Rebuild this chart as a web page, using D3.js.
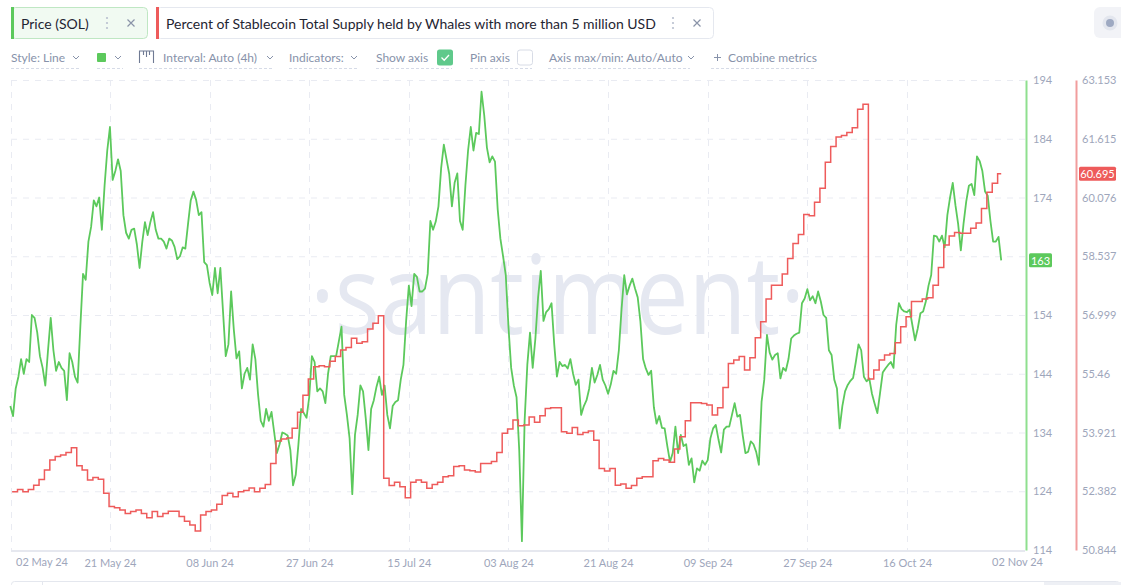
<!DOCTYPE html>
<html>
<head>
<meta charset="utf-8">
<title>SOL price vs stablecoin whale supply</title>
<script src="https://cdn.jsdelivr.net/npm/d3@7"></script>
<style>
  body { margin: 0; background: #fff; }
  svg { display: block; font-family: Lato, "Noto Sans", sans-serif; }
</style>
</head>
<body>
<svg id="chart" width="1121" height="585"></svg>
<script>
// Price (SOL), one reading every 12h
const priceStart = '2024-05-02T12:00';
const priceStepHours = 12;
const priceValues = [
  138.5, 136.8, 141.5, 143.5, 146.5, 144, 146.5, 146, 154, 153.5,
  151, 147, 145, 142, 148, 153.5, 148, 144.5, 146, 145,
  144.5, 139.5, 147.5, 146, 143.5, 142.5, 152, 161, 160, 166.5,
  169, 173.5, 172.5, 174, 168.5, 176, 182, 186, 177, 178.5,
  180.5, 178.5, 171, 168, 167, 168.5, 168.7, 166, 162, 166.4,
  169.8, 167.6, 169.8, 171.5, 168.5, 167, 167, 166.5, 165.3, 167,
  166.7, 165.6, 163.5, 164, 165.5, 165.3, 169.5, 173.5, 175, 173.6,
  171, 171.5, 163, 162.5, 159.5, 157.4, 162, 157.7, 162, 154.5,
  147, 149, 158, 151.5, 146.6, 147.8, 141.5, 144, 145, 143,
  149, 146.5, 140.5, 136, 135, 138, 136, 137.5, 134, 130.5,
  132, 134, 133.8, 133.5, 131, 125, 126.8, 132, 138, 137.3,
  136.5, 140, 147, 146, 141, 141.5, 141, 139, 144, 147,
  147, 147, 149.5, 152, 140.4, 137, 133, 123.5, 133.6, 137,
  142, 141, 136.4, 131, 138, 139.5, 141.8, 143.5, 140.4, 142,
  137, 134.7, 138.5, 139.2, 139.5, 143, 145.5, 153, 159, 155.5,
  161, 160.5, 158, 158, 158.5, 161, 170, 168.5, 169.9, 172.5,
  179, 183, 180.5, 178, 172.5, 176.5, 178.1, 170, 168.5, 176,
  182, 186, 182, 185, 184.8, 192, 188, 182.5, 180, 181,
  180.1, 172, 167, 164, 160.8, 152, 145, 142, 140, 131,
  115.5, 136, 145.5, 151, 145, 150, 157, 161.5, 153, 154.5,
  155, 156, 149, 143.5, 146, 145.3, 145.5, 144.9, 146.5, 144,
  142.1, 143, 137, 138.5, 139.5, 141.5, 145, 142.5, 143.8, 145.5,
  143, 142, 140.6, 142.2, 144.5, 144, 148, 155, 160.8, 157.5,
  159, 160.2, 158.5, 157, 152.9, 146.5, 144.9, 143.8, 144.5, 138.3,
  135.5, 136.8, 134.8, 134.7, 131.7, 129, 130.5, 135, 130.5, 133.6,
  131.7, 132, 128.5, 129.6, 125.5, 127.9, 127.5, 129.2, 128.5, 129.3,
  133, 134.7, 135.3, 132.8, 130.6, 134.5, 135, 135, 137, 139,
  136.7, 137, 133.5, 130.5, 130.7, 132.5, 132, 130.7, 128.5, 139.2,
  143, 150.6, 147.6, 146.4, 147.2, 147.5, 143.2, 145, 144.5, 146.5,
  150, 150.5, 150.8, 151, 156, 156.8, 158.4, 156.5, 157.2, 156,
  158, 156.3, 154, 153.5, 148, 147.2, 143, 141.5, 134.7, 138.5,
  141, 142.1, 142.8, 143.3, 146, 149, 148, 143.5, 142.7, 143.2,
  140.6, 138.9, 137.3, 140.7, 144.2, 144.9, 145.5, 146, 145, 152.3,
  156, 155, 154.6, 154.5, 154.9, 152.3, 149.7, 151.7, 154.3, 154.6,
  156.3, 159, 160.8, 167.5, 167.4, 166.5, 167.5, 165.5, 171, 174,
  176.5, 172.7, 169.5, 165, 169.5, 173.3, 176, 176.3, 174.4, 181,
  180.2, 178.5, 175, 174.3, 170, 166.5, 166.5, 167.3, 163.3
];

// Percent of stablecoin total supply held by whales (> 5M USD), daily
const whaleStart = '2024-05-02T20:00';
const whaleStepHours = 24;
const whaleValues = [
  52.37, 52.43, 52.37, 52.43, 52.54, 52.69, 52.94, 53.2, 53.29, 53.33,
  53.4, 53.52, 53.05, 52.94, 52.68, 52.74, 52.7, 52.33, 51.98, 51.95,
  51.89, 51.8, 51.85, 51.89, 51.8, 51.69, 51.85, 51.72, 51.8, 51.86,
  51.86, 51.72, 51.6, 51.5, 51.34, 51.76, 51.85, 51.89, 52.04, 52.27,
  52.33, 52.24, 52.37, 52.4, 52.47, 52.37, 52.46, 52.56, 53.11, 53.7,
  53.75, 53.78, 54.03, 54.45, 54.9, 55.32, 55.64, 55.67, 55.64, 55.79,
  55.91, 56.08, 56.15, 56.39, 56.26, 56.3, 56.63, 56.78, 56.98, 52.72,
  52.53, 52.62, 52.5, 52.21, 52.62, 52.68, 52.62, 52.46, 52.56, 52.62,
  52.76, 52.79, 53.03, 53.05, 52.94, 52.92, 52.89, 53.11, 53.11, 53.16,
  53.4, 53.9, 54.01, 54.25, 54.1, 54.12, 54.33, 54.19, 54.36, 54.55,
  54.57, 54.57, 53.94, 53.9, 54.05, 53.87, 53.92, 53.96, 53.72, 52.98,
  52.91, 52.98, 52.54, 52.57, 52.46, 52.53, 52.72, 52.76, 52.76, 53.18,
  53.24, 53.2, 53.14, 53.49, 53.81, 54.23, 54.7, 54.7, 54.68, 54.64,
  54.38, 54.57, 55.1, 55.73, 55.82, 55.91, 55.56, 55.88, 56.4, 56.82,
  57.42, 57.78, 57.78, 58.07, 58.48, 58.87, 59.11, 59.63, 59.6, 59.95,
  60.32, 61.0, 61.41, 61.66, 61.7, 61.78, 61.9, 62.39, 62.52, 55.32,
  55.56, 55.82, 55.95, 55.99, 56.27, 56.69, 56.95, 57.35, 57.35, 57.42,
  57.45, 57.78, 58.24, 58.83, 59.07, 59.16, 59.14, 59.14, 59.27, 59.41,
  59.79, 60.21, 60.45, 60.695
];

const priceTicks = [194, 184, 174, 164, 154, 144, 134, 124, 114];
const whaleTicks = [63.153, 61.615, 60.076, 58.537, 56.999, 55.46, 53.921, 52.382, 50.844];
const dateTicks = ['2024-05-21T00:00', '2024-06-08T12:00', '2024-06-27T00:00', '2024-07-15T12:00',
  '2024-08-03T00:00', '2024-08-21T12:00', '2024-09-09T00:00', '2024-09-27T12:00', '2024-10-16T00:00'];
const rangeLabels = ['02 May 24', '02 Nov 24'];
const viewRange = ['2024-05-02T15:00', '2024-11-06T22:00'];

const priceTitle = 'Price (SOL)';
const whaleTitle = 'Percent of Stablecoin Total Supply held by Whales with more than 5 million USD';

// colours
const GREEN = '#5cc95c';
const RED = '#ee5b5b';
const GRID = '#e9ebf2';
const MUTED = '#9ea6bb';
const TOOL = '#8792aa';

const svg = d3.select('#chart');
const plot = { left: 11, right: 1025, top: 80, bottom: 550 };

const parse = d3.utcParse('%Y-%m-%dT%H:%M');
const toSeries = (start, hours, values) =>
  values.map((v, i) => ({ date: new Date(parse(start).getTime() + i * hours * 36e5), value: v }));

const price = toSeries(priceStart, priceStepHours, priceValues);
const whales = toSeries(whaleStart, whaleStepHours, whaleValues);
// hold the last daily value until the last price reading
whales.push({ date: price[price.length - 1].date, value: whaleValues[whaleValues.length - 1] });

const x = d3.scaleUtc().domain(viewRange.map(parse)).range([plot.left, plot.right]);
const yPrice = d3.scaleLinear().domain([114, 194]).range([plot.bottom, plot.top]);
const yWhale = d3.scaleLinear().domain([50.844, 63.153]).range([plot.bottom, plot.top]);

// ---------- header pills ----------
const pillY = 7.5, pillH = 31, pillMid = pillY + pillH / 2;
function pill(x0, w, color, bg, border, label) {
  const g = svg.append('g');
  g.append('rect').attr('x', x0 + 0.5).attr('y', pillY).attr('width', w).attr('height', pillH)
    .attr('rx', 4).attr('fill', bg).attr('stroke', border);
  g.append('rect').attr('x', x0).attr('y', pillY - 0.5).attr('width', 3).attr('height', pillH + 1).attr('fill', color);
  g.append('text').attr('x', x0 + 10).attr('y', pillMid).attr('dominant-baseline', 'central')
    .attr('font-size', 14).attr('fill', '#1f2532').text(label);
  // kebab + close
  const kx = x0 + w - 40;
  [-5, 0, 5].forEach(dy => g.append('circle').attr('cx', kx).attr('cy', pillMid + dy).attr('r', 1.1).attr('fill', '#b9c0cf'));
  const cx = x0 + w - 16;
  g.append('path').attr('d', `M${cx - 3.5},${pillMid - 3.5}L${cx + 3.5},${pillMid + 3.5}M${cx + 3.5},${pillMid - 3.5}L${cx - 3.5},${pillMid + 3.5}`)
    .attr('stroke', '#8a93a8').attr('stroke-width', 1.2);
}
pill(11, 136, GREEN, '#f1faf2', '#bfe7c3', priceTitle);
pill(156, 557, RED, '#ffffff', '#e5e8ef', whaleTitle);

svg.append('rect').attr('x', 1094).attr('y', 7).attr('width', 40).attr('height', 31).attr('rx', 6).attr('fill', '#f2f3f7');
svg.append('circle').attr('cx', 1110).attr('cy', 23).attr('r', 7.5).attr('fill', '#e3e6ee');
svg.append('circle').attr('cx', 1110).attr('cy', 23).attr('r', 4).attr('fill', '#9ea9c2');

// ---------- toolbar ----------
const tb = svg.append('g').attr('font-size', 12).attr('fill', TOOL);
const toolY = 57.5;
[[11, 'Style: Line'], [163, 'Interval: Auto (4h)'], [289, 'Indicators:'], [376, 'Show axis'],
 [470, 'Pin axis'], [549, 'Axis max/min: Auto/Auto'], [728, 'Combine metrics']]
  .forEach(([tx, t]) => tb.append('text').attr('x', tx).attr('y', toolY).attr('dominant-baseline', 'central').text(t));

[76, 118, 270, 354, 691].forEach(cx =>
  tb.append('path').attr('d', `M${cx - 3},${toolY - 1.5}L${cx},${toolY + 1.5}L${cx + 3},${toolY - 1.5}`)
    .attr('fill', 'none').attr('stroke', TOOL).attr('stroke-width', 1));

[[11, 81], [97, 123], [139, 273], [289, 358], [376, 452], [470, 532], [548, 690], [711, 816]]
  .forEach(([a, b]) => tb.append('line').attr('x1', a).attr('x2', b).attr('y1', 68.5).attr('y2', 68.5)
    .attr('stroke', '#d6dbe7').attr('stroke-dasharray', '3,2'));

tb.append('rect').attr('x', 97).attr('y', toolY - 4.5).attr('width', 9).attr('height', 9).attr('rx', 1).attr('fill', GREEN);
// ruler icon
tb.append('path').attr('d', `M139.5,${toolY + 5.5}V${toolY - 6.5}H153.5V${toolY + 5.5}M143.5,${toolY - 6.5}v4M146.5,${toolY - 6.5}v6M149.5,${toolY - 6.5}v4`)
  .attr('fill', 'none').attr('stroke', '#6f7a93').attr('stroke-width', 1.1);
// checkboxes
tb.append('rect').attr('x', 437).attr('y', toolY - 8).attr('width', 16).attr('height', 16).attr('rx', 2.5).attr('fill', '#5fc98b');
tb.append('path').attr('d', `M441.5,${toolY}L444.2,${toolY + 2.7}L449,${toolY - 2.5}`)
  .attr('fill', 'none').attr('stroke', '#fff').attr('stroke-width', 1.3);
tb.append('rect').attr('x', 517.5).attr('y', toolY - 7.5).attr('width', 15).attr('height', 15).attr('rx', 2.5)
  .attr('fill', '#fff').attr('stroke', '#d8dce6');
tb.append('path').attr('d', `M714,${toolY}h7M717.5,${toolY - 3.5}v7`).attr('stroke', TOOL).attr('stroke-width', 1);

// ---------- grid ----------
const grid = svg.append('g').attr('stroke', GRID).attr('stroke-dasharray', '6,6');
grid.selectAll('.hg').data(priceTicks.filter(t => t !== 114)).join('line')
  .attr('x1', plot.left).attr('x2', plot.right)
  .attr('y1', d => yPrice(d) + 0.5).attr('y2', d => yPrice(d) + 0.5);
grid.selectAll('.vg').data([viewRange[0]].concat(dateTicks).map(parse)).join('line')
  .attr('x1', d => Math.round(x(d)) + 0.5).attr('x2', d => Math.round(x(d)) + 0.5)
  .attr('y1', plot.top).attr('y2', plot.bottom);

svg.append('line').attr('x1', plot.left).attr('x2', plot.right).attr('y1', plot.bottom + 1).attr('y2', plot.bottom + 1)
  .attr('stroke', '#e6e8ef').attr('stroke-width', 2);

// watermark
svg.append('text').attr('x', 310).attr('y', 334).attr('font-family', '"Open Sans", sans-serif')
  .attr('font-size', 110).attr('fill', '#e5e8f1')
  .attr('textLength', 495).attr('lengthAdjust', 'spacingAndGlyphs').text('\u00b7santiment\u00b7');

// ---------- series ----------
svg.append('path').datum(price)
  .attr('d', d3.line().x(d => x(d.date)).y(d => yPrice(d.value)))
  .attr('fill', 'none').attr('stroke', GREEN).attr('stroke-width', 1.8).attr('stroke-linejoin', 'round');

svg.append('path').datum(whales)
  .attr('d', d3.line().curve(d3.curveStepAfter).x(d => x(d.date)).y(d => yWhale(d.value)))
  .attr('fill', 'none').attr('stroke', RED).attr('stroke-width', 1.5);

// ---------- axes ----------
const lastPrice = priceValues[priceValues.length - 1];
const lastWhale = whaleValues[whaleValues.length - 1];

const priceAxis = svg.append('g').attr('transform', `translate(${plot.right + 1},0)`)
  .call(d3.axisRight(yPrice).tickValues(priceTicks.filter(t => Math.abs(yPrice(t) - yPrice(lastPrice)) > 12))
    .tickFormat(d3.format('d')).tickSize(0).tickSizeOuter(0).tickPadding(7));
priceAxis.select('.domain').attr('stroke', '#8fdf8f').attr('stroke-width', 2);

const whaleAxis = svg.append('g').attr('transform', 'translate(1076,0)')
  .call(d3.axisRight(yWhale).tickValues(whaleTicks).tickFormat(d3.format('.3~f'))
    .tickSize(0).tickSizeOuter(0).tickPadding(6));
whaleAxis.select('.domain').attr('stroke', '#f19d9d').attr('stroke-width', 2);

svg.selectAll('.tick text').attr('fill', MUTED).attr('font-size', 11).attr('font-family', 'Lato, sans-serif');

const fmtDate = d3.utcFormat('%d %b %y');
const xAxis = svg.append('g').attr('transform', `translate(0,${plot.bottom + 1})`)
  .call(d3.axisBottom(x).tickValues(dateTicks.map(parse)).tickFormat(fmtDate).tickSize(0).tickPadding(8));
xAxis.select('.domain').remove();
xAxis.selectAll('text').attr('fill', MUTED).attr('font-size', 11).attr('font-family', 'Lato, sans-serif');

svg.append('text').attr('x', 16).attr('y', 566).attr('font-size', 11).attr('fill', MUTED).text(rangeLabels[0]);
svg.append('text').attr('x', 1043).attr('y', 566).attr('text-anchor', 'end').attr('font-size', 11).attr('fill', MUTED).text(rangeLabels[1]);

// last value badges
function badge(bx, by, w, color, label) {
  svg.append('rect').attr('x', bx).attr('y', by - 7).attr('width', w).attr('height', 14).attr('rx', 1.5).attr('fill', color);
  svg.append('text').attr('x', bx + w / 2).attr('y', by).attr('text-anchor', 'middle').attr('dominant-baseline', 'central')
    .attr('font-size', 11).attr('fill', '#fff').text(label);
}
badge(1029, yPrice(lastPrice), 23, GREEN, d3.format('d')(lastPrice));
badge(1079, yWhale(lastWhale), 37, RED, d3.format('.3~f')(lastWhale));

// navigator strip (cut off at the bottom)
svg.append('rect').attr('x', 11.5).attr('y', 581.5).attr('width', 1108).attr('height', 12).attr('rx', 3)
  .attr('fill', 'none').attr('stroke', '#e4e7ee');
svg.append('rect').attr('x', 1044).attr('y', 582).attr('width', 77).attr('height', 10).attr('fill', '#eef0f5');
svg.append('line').attr('x1', 42.5).attr('x2', 42.5).attr('y1', 582).attr('y2', 585).attr('stroke', '#e4e7ee');
</script>
</body>
</html>
